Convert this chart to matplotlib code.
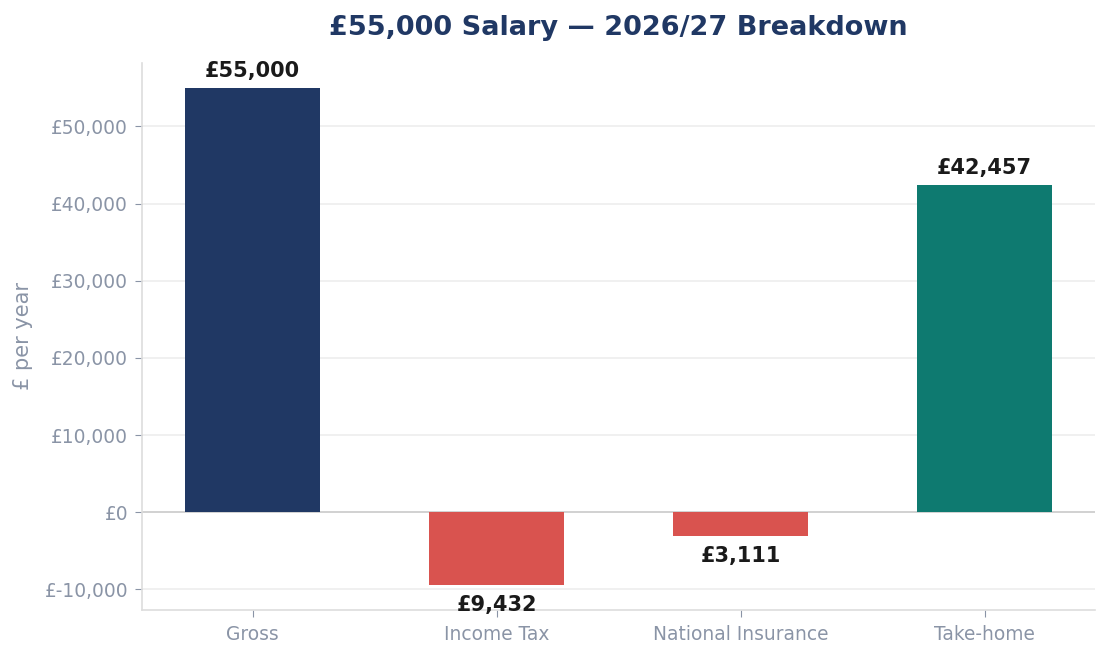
import matplotlib
matplotlib.use("Agg")
import matplotlib.pyplot as plt
from matplotlib.ticker import FuncFormatter

categories = ["Gross", "Income Tax", "National Insurance", "Take-home"]
values = [55000, -9432, -3111, 42457]
colors = ["#203864", "#d9534f", "#d9534f", "#0e7a70"]

fig = plt.figure(figsize=(11.1, 6.59), dpi=100)
ax = fig.add_axes([0.128, 0.0744, 0.8585, 0.83])

x = list(range(len(categories)))
bars = ax.bar(x, values, width=0.55, color=colors, zorder=3)

ax.axhline(0, color="#cccccc", linewidth=1.2, zorder=2)
ax.yaxis.grid(True, color="#eeeeee", linewidth=1.2, zorder=0)
ax.set_axisbelow(True)

for b, v in zip(bars, values):
    cx = b.get_x() + b.get_width() / 2
    if v >= 0:
        ax.annotate(f"£{abs(v):,}", (cx, v), xytext=(0, 5), textcoords="offset points",
                    ha="center", va="bottom", fontsize=15, fontweight="bold", color="#1a1a1a", zorder=4)
    else:
        ax.annotate(f"£{abs(v):,}", (cx, v), xytext=(0, -7), textcoords="offset points",
                    ha="center", va="top", fontsize=15, fontweight="bold", color="#1a1a1a", zorder=4)

ax.set_xticks(x)
ax.set_xticklabels(categories)
ax.yaxis.set_major_formatter(FuncFormatter(lambda v, p: f"£{int(v):,}"))
ax.tick_params(axis="both", colors="#8a94a6", labelsize=13.4, length=5)
ax.tick_params(axis="y", pad=5)
ax.tick_params(axis="x", pad=5.5)
ax.set_ylabel("£ per year", color="#8a94a6", fontsize=15, labelpad=8)

for s in ["top", "right"]:
    ax.spines[s].set_visible(False)
for s in ["left", "bottom"]:
    ax.spines[s].set_color("#dddddd")
    ax.spines[s].set_linewidth(1.2)

ax.set_title("£55,000 Salary — 2026/27 Breakdown", fontsize=19.5, fontweight="bold",
             color="#203864", pad=20)

fig.savefig("out.png", dpi=100)
